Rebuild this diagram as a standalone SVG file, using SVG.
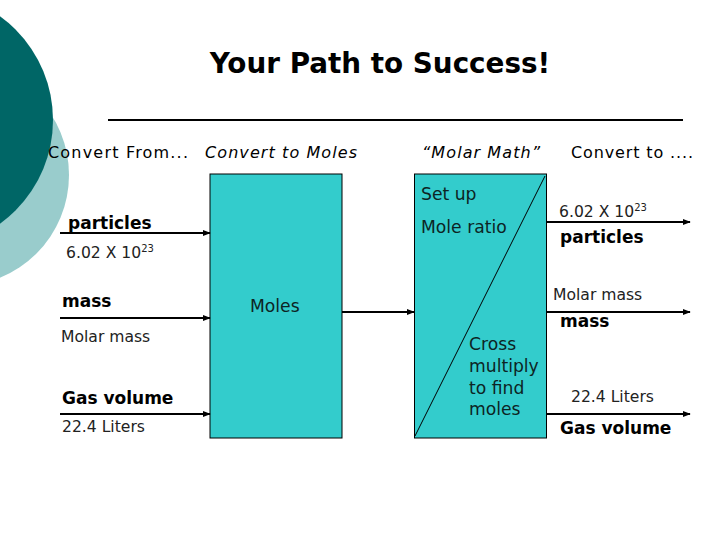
<svg xmlns="http://www.w3.org/2000/svg" width="720" height="540" viewBox="0 0 720 540">
<defs>
<style>
text{font-family:"DejaVu Sans","Verdana",sans-serif;fill:#000}
.h{font-size:16px}
.hi{font-size:16px;font-style:italic}
.b{font-size:17px;font-weight:bold}
.r{font-size:15.6px;fill:#222}
.in{font-size:17.2px;fill:#0d2424}
.box{fill:#33CCCC;stroke:#000;stroke-width:1}
.arr{stroke:#000;stroke-width:2;fill:none;marker-end:url(#ah)}
</style>
<marker id="ah" viewBox="0 0 10 10" refX="9" refY="5" markerWidth="4" markerHeight="4" orient="auto" markerUnits="strokeWidth">
<path d="M0,1 L10,5 L0,9 z" fill="#000"/>
</marker>
</defs>
<rect width="720" height="540" fill="#fff"/>
<g id="decor">
<circle cx="-42" cy="175" r="111" fill="#99CCCC"/>
<circle cx="-75" cy="120" r="128" fill="#006666"/>
</g>
<g id="title">
<text x="380" y="73" text-anchor="middle" style="font-size:27.8px;font-weight:bold">Your Path to Success!</text>
<line x1="108" y1="120" x2="683" y2="120" stroke="#000" stroke-width="2"/>
</g>
<g id="headers">
<text class="h" x="48" y="158" textLength="140">Convert From...</text>
<text class="hi" x="205" y="158" textLength="152">Convert to Moles</text>
<text class="hi" x="422" y="158" textLength="118">“Molar Math”</text>
<text class="h" x="571" y="158" textLength="122">Convert to ....</text>
</g>
<g id="box-moles">
<rect class="box" x="210" y="174" width="132" height="264"/>
<text class="in" x="250" y="312">Moles</text>
</g>
<g id="box-molar-math">
<rect class="box" x="414.5" y="174" width="132" height="264"/>
<line x1="545" y1="176" x2="415" y2="436" stroke="#000" stroke-width="1"/>
<text class="in" x="421" y="200">Set up</text>
<text class="in" x="421" y="233">Mole ratio</text>
<text class="in" x="469" y="350">Cross</text>
<text class="in" x="469" y="372">multiply</text>
<text class="in" x="469" y="394">to find</text>
<text class="in" x="469" y="415">moles</text>
</g>
<g id="connectors">
<line class="arr" x1="60" y1="233" x2="210" y2="233"/>
<line class="arr" x1="60" y1="318" x2="210" y2="318"/>
<line class="arr" x1="60" y1="414" x2="210" y2="414"/>
<line class="arr" x1="342" y1="312" x2="414" y2="312"/>
<line class="arr" x1="547" y1="222" x2="690" y2="222"/>
<line class="arr" x1="547" y1="312" x2="690" y2="312"/>
<line class="arr" x1="547" y1="414" x2="690" y2="414"/>
</g>
<g id="left-labels">
<text class="b" x="68" y="229">particles</text>
<text class="r" x="66" y="258">6.02 X 10<tspan dy="-6" style="font-size:10px">23</tspan></text>
<text class="b" x="62" y="307">mass</text>
<text class="r" x="61" y="342">Molar mass</text>
<text class="b" x="62" y="404">Gas volume</text>
<text class="r" x="62" y="432">22.4 Liters</text>
</g>
<g id="right-labels">
<text class="r" x="559" y="217">6.02 X 10<tspan dy="-6" style="font-size:10px">23</tspan></text>
<text class="b" x="560" y="243">particles</text>
<text class="r" x="553" y="300">Molar mass</text>
<text class="b" x="560" y="327">mass</text>
<text class="r" x="571" y="402">22.4 Liters</text>
<text class="b" x="560" y="434">Gas volume</text>
</g>
</svg>
